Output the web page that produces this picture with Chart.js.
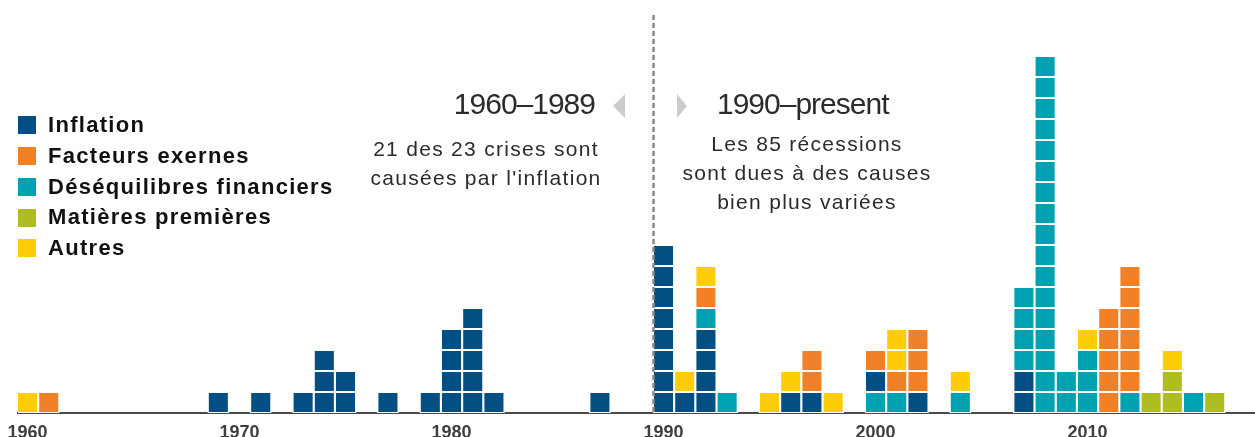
<!DOCTYPE html>
<html lang="fr">
<head>
<meta charset="utf-8">
<title>Récessions par cause</title>
<script src="https://cdn.jsdelivr.net/npm/chart.js@4.4.1/dist/chart.umd.min.js"></script>
<style>
  html, body { margin: 0; padding: 0; background: #fff; }
  #wrap { position: relative; width: 1255px; height: 437px; overflow: hidden; }
  #chart { position: absolute; left: 0; top: 0; }
  .txt { position: absolute; font-family: "Liberation Sans", Arial, sans-serif; color: #2b2b2b; white-space: nowrap; }
  .title { font-size: 30px; line-height: 36px; letter-spacing: -1px; }
  .sub { font-size: 21px; line-height: 29px; letter-spacing: 1.3px; text-align: center; }
  #legend { position: absolute; left: 18px; top: 110px; font-family: "Liberation Sans", Arial, sans-serif; font-weight: bold; font-size: 22px; letter-spacing: 1.3px; color: #111; }
  #legend .row { height: 30.75px; line-height: 30.75px; display: flex; align-items: center; }
  #legend .sw { width: 18px; height: 18px; margin-right: 12px; flex: none; }
  .tri { position: absolute; width: 0; height: 0; border-top: 12px solid transparent; border-bottom: 12px solid transparent; }
</style>
</head>
<body>
<div id="wrap">
  <canvas id="chart" width="1255" height="437"></canvas>
  <div id="legend"></div>
  <div class="txt title" style="right:660px; top:86px;">1960–1989</div>
  <div class="tri" style="left:613px; top:94px; border-right:12px solid #cccccc;"></div>
  <div class="tri" style="left:677px; top:94px; border-left:10px solid #cccccc;"></div>
  <div class="txt title" style="left:717px; top:86px;">1990–present</div>
  <div class="txt sub" style="left:366px; width:240px; top:134px;">21 des 23 crises sont<br>causées par l'inflation</div>
  <div class="txt sub" style="left:667px; width:280px; top:129px;">Les 85 récessions<br>sont dues à des causes<br>bien plus variées</div>
</div>
<script>
// Récessions par année et par cause (un carré = une récession)

const years = [1960, 1961, 1969, 1971, 1973, 1974, 1975, 1977, 1979, 1980, 1981, 1982, 1987,
  1990, 1991, 1992, 1993, 1995, 1996, 1997, 1998, 2000, 2001, 2002, 2004,
  2007, 2008, 2009, 2010, 2011, 2012, 2013, 2014, 2015, 2016];

const inflation  = [0, 0, 1, 1, 1, 3, 2, 1, 1, 4, 5, 1, 1, 8, 1, 4, 0, 0, 1, 1, 0, 1, 0, 1, 0, 2, 0, 0, 0, 0, 0, 0, 0, 0, 0];
const externes   = [0, 1, 0, 0, 0, 0, 0, 0, 0, 0, 0, 0, 0, 0, 0, 1, 0, 0, 0, 2, 0, 1, 1, 3, 0, 0, 0, 0, 0, 5, 6, 0, 0, 0, 0];
const financiers = [0, 0, 0, 0, 0, 0, 0, 0, 0, 0, 0, 0, 0, 0, 0, 1, 1, 0, 0, 0, 0, 1, 1, 0, 1, 4, 17, 2, 3, 0, 1, 0, 0, 1, 0];
const matieres   = [0, 0, 0, 0, 0, 0, 0, 0, 0, 0, 0, 0, 0, 0, 0, 0, 0, 0, 0, 0, 0, 0, 0, 0, 0, 0, 0, 0, 0, 0, 0, 1, 2, 0, 1];
const autres     = [1, 0, 0, 0, 0, 0, 0, 0, 0, 0, 0, 0, 0, 0, 1, 1, 0, 1, 1, 0, 1, 0, 2, 0, 1, 0, 0, 0, 1, 0, 0, 0, 1, 0, 0];

const tickYears = [1960, 1970, 1980, 1990, 2000, 2010];

const CATS = [
  { key: "I", label: "Inflation", color: "#034f84", values: inflation },
  { key: "F", label: "Facteurs exernes", color: "#f28026", values: externes },
  { key: "D", label: "Déséquilibres financiers", color: "#00a1b1", values: financiers },
  { key: "M", label: "Matières premières", color: "#afbd21", values: matieres },
  { key: "A", label: "Autres", color: "#fecd08", values: autres },
];

// ordre d'empilement (du bas vers le haut)
const stackOrder = ["I", "D", "F", "M", "A"];
const stackOverride = { 2000: ["D", "I", "F", "M", "A"] };

// légende
const legendEl = document.getElementById("legend");
CATS.forEach((c) => {
  const row = document.createElement("div");
  row.className = "row";
  row.innerHTML = `<span class="sw" style="background:${c.color}"></span><span>${c.label}</span>`;
  legendEl.appendChild(row);
});

// une pile de carrés par année
const byKey = Object.fromEntries(CATS.map((c) => [c.key, c]));
const columns = years.map((yr, i) => {
  const order = stackOverride[yr] || stackOrder;
  const col = [];
  order.forEach((k) => {
    for (let n = 0; n < byKey[k].values[i]; n++) col.push(byKey[k].color);
  });
  return col;
});
const maxLevel = Math.max(...columns.map((c) => c.length));

const datasets = [];
for (let lvl = 0; lvl < maxLevel; lvl++) {
  const pts = [];
  const cols = [];
  years.forEach((yr, i) => {
    if (columns[i].length > lvl) {
      pts.push({ x: yr, y: 1 });
      cols.push(columns[i][lvl]);
    }
  });
  datasets.push({
    label: "niveau " + (lvl + 1),
    data: pts,
    backgroundColor: cols,
    borderColor: "#ffffff",
    borderWidth: 1.4,
    borderSkipped: false,
    barPercentage: 1,
    categoryPercentage: 1,
  });
}

const divider = {
  id: "divider",
  afterDatasetsDraw(chart) {
    const { ctx, chartArea, scales } = chart;
    const x = Math.round(scales.x.getPixelForValue(1989.5)) + 0.5;
    ctx.save();
    ctx.strokeStyle = "#8a8a8a";
    ctx.lineWidth = 2.5;
    ctx.setLineDash([5, 3]);
    ctx.beginPath();
    ctx.moveTo(x, chartArea.top + 1);
    ctx.lineTo(x, chartArea.bottom);
    ctx.stroke();
    ctx.restore();
  },
};

// eslint-disable-next-line no-undef
new Chart(document.getElementById("chart"), {
  type: "bar",
  data: { datasets },
  options: {
    responsive: false,
    animation: false,
    layout: { padding: { left: 18, right: 0, top: 14, bottom: 0 } },
    plugins: { legend: { display: false }, tooltip: { enabled: false } },
    scales: {
      x: {
        type: "linear",
        stacked: true,
        offset: false,
        min: 1959.55,
        max: 2017.9,
        afterBuildTicks: (axis) => { axis.ticks = tickYears.map((v) => ({ value: v })); },
        afterFit: (axis) => {
          axis.height = 24;
          axis.paddingLeft = 0;
          axis.paddingRight = 0;
        },
        grid: { display: false, drawTicks: false },
        border: { display: true, color: "#4a4a4a", width: 2 },
        ticks: {
          color: "#3f3f3f",
          padding: 11,
          maxRotation: 0,
          autoSkip: false,
          font: { family: "'Liberation Sans', Arial, sans-serif", size: 18, weight: "bold", lineHeight: 1 },
          callback: (v) => String(v),
        },
      },
      y: { display: false, stacked: true, min: 0, max: 19 },
    },
  },
  plugins: [divider],
});
</script>
</body>
</html>
